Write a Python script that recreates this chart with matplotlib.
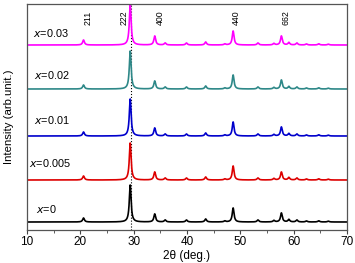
import numpy as np
import matplotlib
matplotlib.use("Agg")
import matplotlib.pyplot as plt
from matplotlib.ticker import MultipleLocator

plt.rcParams['font.family'] = ['Liberation Sans', 'DejaVu Sans']

# Peak positions (2theta, deg) and relative heights
peak_pos = [20.6, 29.35, 33.95, 35.9, 39.9, 43.5, 47.1, 48.65, 53.3, 56.3, 57.7, 59.1, 60.6, 62.4, 64.7, 66.5]
heights_x0     = [4, 37, 8, 2, 2, 3, 1, 14, 2, 1.5, 9, 2.5, 2, 1, 1.2, 0.8]
heights_x0005  = [4, 37, 8, 2, 2, 3, 1, 14, 2, 1.5, 8, 2.5, 2, 1, 1.2, 0.8]
heights_x001   = [4, 37, 8, 2, 2, 3, 1, 14, 2, 1.5, 9, 2.5, 2, 1, 1.2, 0.8]
heights_x002   = [4, 38, 8, 2, 2, 3, 1, 14, 2, 1.5, 9, 2.5, 2, 1, 1.2, 0.8]
heights_x003   = [5, 40, 9, 2, 2, 3, 1, 14, 2, 1.5, 9, 2.5, 2, 1, 1.2, 0.8]

label_values = ['0', '0.005', '0.01', '0.02', '0.03']
offsets = [8, 50, 94, 141, 185]
colors = ['#000000', '#dd0000', '#0000cc', '#2e8888', '#ff00ff']
label_pos_x = [11.7, 10.4, 11.3, 11.3, 11.1]
label_pos_y = [13, 17, 16, 14, 12]

miller = ['211', '222', '400', '440', '662']
miller_x = [21.4, 28.2, 35.0, 49.2, 58.6]

x = np.linspace(10, 70, 3000)

def pattern(heights, width=0.2):
    y = np.zeros_like(x)
    for p, h in zip(peak_pos, heights):
        y += h / (1 + ((x - p) / width) ** 2)
    return y

fig = plt.figure(figsize=(3.55, 2.63), dpi=100)
ax = fig.add_axes([27/355, 1 - 230/263, 320/355, 226/263])

all_heights = [heights_x0, heights_x0005, heights_x001, heights_x002, heights_x003]
for hts, off, c, lv, lx, ly in zip(all_heights, offsets, colors, label_values, label_pos_x, label_pos_y):
    ax.plot(x, pattern(hts) + off, color=c, lw=1.2)
    ax.text(lx, off + ly, r'$x$=' + lv, fontsize=7.8, ha='left', va='center')

ax.axvline(29.45, color='black', ls=':', lw=0.8, zorder=0)

for m, mx in zip(miller, miller_x):
    ax.text(mx, 205, m, rotation=90, fontsize=6.3, ha='center', va='bottom')

ax.set_xlim(10, 70)
ax.set_ylim(0, 226)
ax.set_yticks([])
ax.xaxis.set_major_locator(MultipleLocator(10))
ax.xaxis.set_minor_locator(MultipleLocator(5))
ax.tick_params(axis='x', which='major', direction='out', length=3, labelsize=8.5, pad=1.5, color='#444444')
ax.tick_params(axis='x', which='minor', direction='out', length=2, color='#444444')
for s in ax.spines.values():
    s.set_color('#555555')
    s.set_linewidth(0.9)
ax.set_xlabel('2θ (deg.)', fontsize=8.5, labelpad=1)
ax.set_ylabel('Intensity (arb.unit.)', fontsize=8.2, labelpad=9)

fig.savefig('out.png', dpi=100)
